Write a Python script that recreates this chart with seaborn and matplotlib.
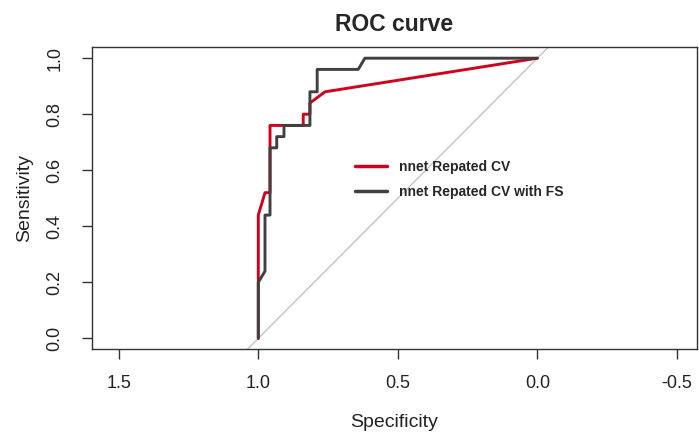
import matplotlib
matplotlib.use("Agg")
import matplotlib.pyplot as plt
import seaborn as sns
import pandas as pd
from matplotlib.lines import Line2D

sns.set_style("white")
plt.rcParams["font.family"] = ["Liberation Sans", "DejaVu Sans"]

# ROC curve coordinates (specificity, sensitivity) for each model
spec_cv = [1.0, 1.0, 1.0, 0.976, 0.958, 0.958, 0.839, 0.839, 0.815, 0.815, 0.761, 0.0]
sens_cv = [0.0, 0.20, 0.44, 0.52, 0.52, 0.76, 0.76, 0.80, 0.80, 0.84, 0.88, 1.0]

spec_fs = [1.0, 1.0, 0.976, 0.976, 0.958, 0.958, 0.934, 0.934, 0.908, 0.908,
           0.815, 0.815, 0.789, 0.789, 0.642, 0.618, 0.0]
sens_fs = [0.0, 0.20, 0.24, 0.44, 0.44, 0.68, 0.68, 0.72, 0.72, 0.76,
           0.76, 0.88, 0.88, 0.96, 0.96, 1.0, 1.0]

labels = ["nnet Repated CV", "nnet Repated CV with FS"]
colors = ["#D0021B", "#404040"]

x_ticks = [1.5, 1.0, 0.5, 0.0, -0.5]
y_ticks = [0.0, 0.2, 0.4, 0.6, 0.8, 1.0]

df = pd.concat([
    pd.DataFrame({"Specificity": spec_cv, "Sensitivity": sens_cv, "model": labels[0]}),
    pd.DataFrame({"Specificity": spec_fs, "Sensitivity": sens_fs, "model": labels[1]}),
])

fig = plt.figure(figsize=(6.99, 4.34), dpi=100)
ax = fig.add_axes([0.1316, 0.1952, 0.8655, 0.6959])

# chance diagonal
ax.axline((1.0, 0.0), (0.0, 1.0), color="#BEBEBE", lw=0.9, zorder=1)

sns.lineplot(data=df, x="Specificity", y="Sensitivity", hue="model",
             palette=dict(zip(labels, colors)), sort=False, estimator=None,
             lw=2.1, ax=ax, legend=False, zorder=3)

ax.set_xlim(1.596, -0.572)
ax.set_ylim(-0.039, 1.039)
ax.set_xticks(x_ticks)
ax.set_xticklabels([f"{t:.1f}" for t in x_ticks])
ax.set_yticks(y_ticks)
ax.set_yticklabels([f"{t:.1f}" for t in y_ticks], rotation=90, va="center")

ax.tick_params(axis="both", direction="out", length=7.5, width=1, color="#333333",
               labelsize=13, labelcolor="#222222", bottom=True, left=True)
ax.tick_params(axis="x", pad=11)
ax.tick_params(axis="y", pad=13)
for s in ax.spines.values():
    s.set_color("#333333")
    s.set_linewidth(1)

ax.set_xlabel("Specificity", fontsize=14, color="#222222", labelpad=16)
ax.set_ylabel("Sensitivity", fontsize=14, color="#222222", labelpad=10)
ax.set_title("ROC curve", fontsize=16.5, fontweight="bold", pad=12)

handles = [Line2D([0], [0], color=c, lw=2.5) for c in colors]
leg = ax.legend(handles, labels, loc="upper left", bbox_to_anchor=(0.4347, 0.627),
                frameon=False, borderpad=0, borderaxespad=0, handlelength=2.3,
                handletextpad=0.9, labelspacing=0.8, prop={"size": 10, "weight": "bold"})

fig.savefig("out.png", dpi=100)
